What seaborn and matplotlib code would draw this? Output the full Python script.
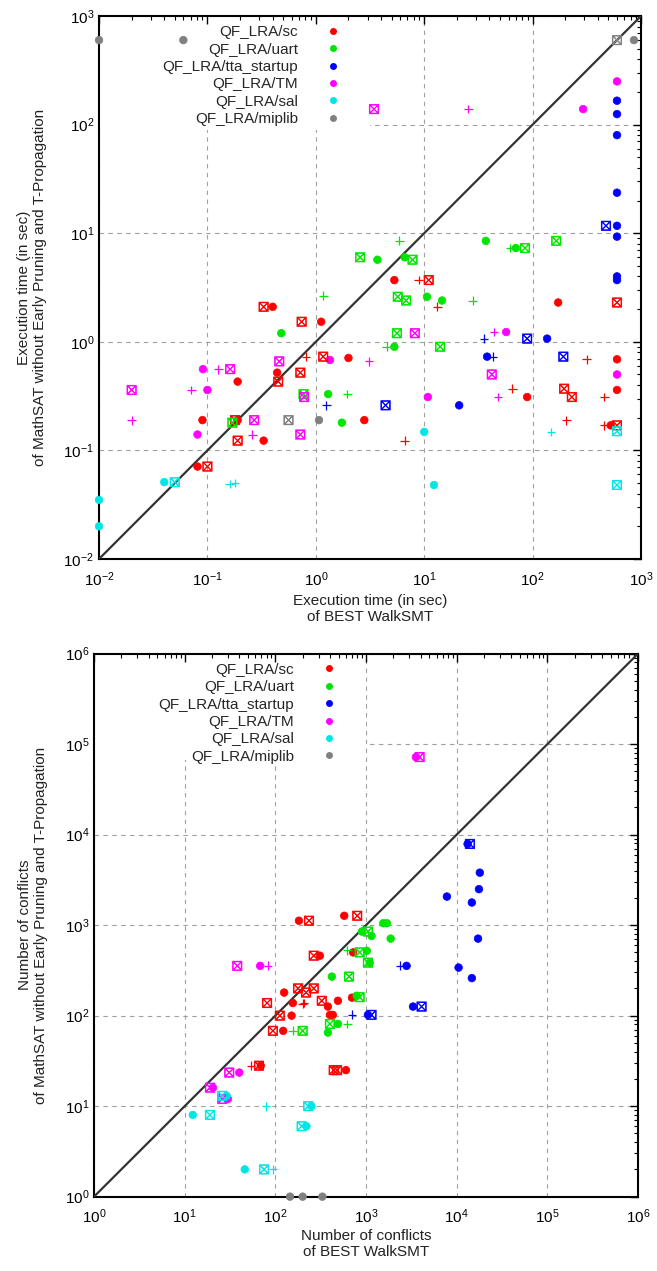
import matplotlib
matplotlib.use("Agg")
import matplotlib.pyplot as plt
from matplotlib.lines import Line2D
from matplotlib.patches import Rectangle
from matplotlib.ticker import NullFormatter, FixedLocator, LogLocator
import numpy as np
import pandas as pd
import seaborn as sns

#%% data (x = BEST WalkSMT, y = MathSAT w/o EP and TP)
families = ["QF_LRA/sc", "QF_LRA/uart", "QF_LRA/tta_startup",
            "QF_LRA/TM", "QF_LRA/sal", "QF_LRA/miplib"]
family_colors = ["#ff0000", "#00e600", "#0000ff", "#ff00ff", "#00e6e6", "#808080"]
runs = ["run1", "run2", "run3"]

# execution time (sec)
time_sc = {
    "run1": [(5.3, 3.7), (172, 2.3), (2.0, 0.71), (600, 0.69), (600, 0.36), (89, 0.31),
             (2.8, 0.19), (525, 0.17), (0.40, 2.1), (1.12, 1.53), (0.19, 0.43),
             (0.44, 0.52), (0.19, 0.19), (0.09, 0.19), (0.33, 0.123), (0.081, 0.071)],
    "run2": [(11, 3.7), (600, 2.3), (195, 0.37), (230, 0.31), (600, 0.17), (0.33, 2.1),
             (0.74, 1.53), (1.17, 0.73), (0.45, 0.43), (0.72, 0.52), (0.18, 0.19),
             (0.19, 0.123), (0.1, 0.071)],
    "run3": [(8.9, 3.7), (13.2, 2.1), (316, 0.69), (65, 0.37), (460, 0.31), (205, 0.19),
             (460, 0.17), (6.6, 0.123), (0.81, 0.73)],
}
time_uart = {
    "run1": [(37, 8.5), (70, 7.3), (3.7, 5.7), (6.6, 6.0), (10.6, 2.6), (14.6, 2.4),
             (5.3, 0.9), (1.3, 0.33), (1.74, 0.18), (0.48, 1.2)],
    "run2": [(85, 7.3), (165, 8.5), (2.56, 6.0), (7.8, 5.7), (5.7, 2.6), (6.8, 2.4),
             (5.6, 1.2), (14.0, 0.9), (0.77, 0.33), (0.17, 0.18)],
    "run3": [(5.9, 8.5), (62, 7.3), (28, 2.4), (4.5, 0.9), (1.95, 0.33), (1.17, 2.66)],
}
time_tta = {
    "run1": [(600, 166), (600, 125), (600, 80), (600, 23.6), (600, 11.7), (600, 9.3),
             (600, 4.0), (600, 3.7), (136, 1.07), (38, 0.73), (21, 0.26)],
    "run2": [(475, 11.7), (89, 1.07), (192, 0.73), (4.4, 0.26)],
    "run3": [(35.6, 1.07), (43, 0.73), (1.25, 0.26)],
}
time_tm = {
    "run1": [(600, 250), (292, 139), (57, 1.23), (1.35, 0.68), (600, 0.50), (10.8, 0.31),
             (0.091, 0.56), (0.1, 0.36), (0.081, 0.14)],
    "run2": [(3.44, 139), (8.2, 1.2), (42, 0.50), (0.46, 0.66), (0.162, 0.56),
             (0.020, 0.36), (0.78, 0.31), (0.27, 0.19), (0.72, 0.14)],
    "run3": [(25.4, 139), (44, 1.23), (3.1, 0.66), (48, 0.31), (0.126, 0.56),
             (0.071, 0.36), (0.02, 0.19), (0.26, 0.14)],
}
time_sal = {
    "run1": [(10, 0.148), (12.3, 0.048), (0.04, 0.051), (0.01, 0.035), (0.01, 0.020)],
    "run2": [(600, 0.15), (600, 0.048), (0.05, 0.051)],
    "run3": [(148, 0.148), (0.16, 0.049), (0.18, 0.05)],
}
time_miplib = {
    "run1": [(0.01, 600), (0.06, 600), (860, 600), (1.07, 0.19)],
    "run2": [(600, 600), (0.56, 0.19)],
    "run3": [],
}

# number of conflicts
conf_sc = {
    "run1": [(575, 1270), (182, 1120), (310, 460), (720, 500), (490, 146), (700, 158),
             (380, 126), (400, 102), (430, 102), (125, 180), (156, 138), (151, 100),
             (122, 68), (69, 28), (600, 25)],
    "run2": [(800, 1270), (235, 1120), (265, 460), (178, 200), (265, 200), (218, 180),
             (325, 146), (81, 138), (112, 100), (94, 68), (66, 28), (480, 25), (440, 25)],
    "run3": [(200, 135), (207, 138), (54, 28)],
}
conf_uart = {
    "run1": [(1550, 1050), (1700, 1050), (900, 850), (1150, 760), (1870, 710),
             (1020, 520), (1100, 385), (420, 270), (790, 166), (490, 81), (380, 65)],
    "run2": [(1050, 850), (850, 500), (1050, 385), (650, 270), (850, 160), (400, 81),
             (200, 68)],
    "run3": [(620, 525), (620, 81), (156, 68)],
}
conf_tta = {
    "run1": [(13200, 7900), (18000, 3800), (17600, 2500), (7800, 2070), (14700, 1780),
             (17200, 710), (2800, 355), (10500, 340), (14700, 260), (3300, 126),
             (1050, 102)],
    "run2": [(14000, 7900), (4100, 126), (1150, 102)],
    "run3": [(2400, 355), (700, 102)],
}
conf_tm = {
    "run1": [(3550, 72000), (68, 355), (40, 23.5), (20.5, 16), (30, 12)],
    "run2": [(3900, 72000), (38, 355), (31, 23.5), (26, 12), (19, 16)],
    "run3": [(83, 355)],
}
conf_sal = {
    "run1": [(29, 13), (250, 10), (12.3, 8), (220, 6), (46, 2)],
    "run2": [(26, 13), (230, 10), (19, 8), (195, 6), (75, 2)],
    "run3": [(79, 10), (94, 2)],
}
conf_miplib = {
    "run1": [(145, 1), (200, 1), (330, 1)],
    "run2": [],
    "run3": [],
}

#%% helpers
run_markers = {"run1": "o", "run2": r"$\boxtimes$", "run3": "+"}
run_sizes = {"run1": 30, "run2": 46, "run3": 40}
palette = dict(zip(families, family_colors))


def to_frame(tables):
    rows = []
    for fam, tab in zip(families, tables):
        for r in runs:
            for bx, by in tab[r]:
                rows.append({"family": fam, "run": r, "best": bx, "msat": by})
    return pd.DataFrame(rows)


time_df = to_frame([time_sc, time_uart, time_tta, time_tm, time_sal, time_miplib])
conf_df = to_frame([conf_sc, conf_uart, conf_tta, conf_tm, conf_sal, conf_miplib])

sns.set_style("white")
plt.rcParams["font.family"] = ["Liberation Sans", "DejaVu Sans"]
plt.rcParams["mathtext.default"] = "regular"


def set_log(a, lo, hi):
    a.set_xscale("log")
    a.set_yscale("log")
    a.set_xlim(lo, hi)
    a.set_ylim(lo, hi)
    decades = 10.0 ** np.arange(np.log10(lo), np.log10(hi) + 1)
    for axis in (a.xaxis, a.yaxis):
        axis.set_major_locator(FixedLocator(decades))
        axis.set_minor_locator(LogLocator(base=10, subs=np.arange(2, 10), numticks=20))


def draw(fig, rect, df, lo, hi, xlabel, ylabel, key_box, xpad):
    # grid lives on an axes underneath, so the key's white box can hide it
    axg = fig.add_axes(rect, zorder=0)
    set_log(axg, lo, hi)
    axg.grid(True, which="major", ls=(0, (4, 4)), color="#a0a0a0", lw=0.8)
    for a in (axg.xaxis, axg.yaxis):
        a.set_major_formatter(NullFormatter())
        a.set_minor_formatter(NullFormatter())
    axg.tick_params(which="both", length=0)
    for s in axg.spines.values():
        s.set_visible(False)

    ax = fig.add_axes(rect, zorder=1)
    ax.patch.set_alpha(0)
    ax.add_patch(Rectangle((0, 1 - key_box[1]), key_box[0], key_box[1],
                           transform=ax.transAxes, facecolor="white",
                           edgecolor="none", zorder=0.2))
    for r in runs:
        sub = df[df.run == r]
        if r == "run3":
            kw = dict(linewidth=0.9)
        else:
            kw = dict(linewidth=0.5, edgecolor="face")
        sns.scatterplot(data=sub, x="best", y="msat", hue="family", hue_order=families,
                        palette=palette, marker=run_markers[r], s=run_sizes[r],
                        legend=False, ax=ax, clip_on=False, zorder=6, **kw)
    ax.plot([lo, hi], [lo, hi], color="#333333", lw=1.6, zorder=4)
    set_log(ax, lo, hi)
    ax.yaxis.set_minor_formatter(NullFormatter())
    ax.xaxis.set_minor_formatter(NullFormatter())
    for s in ax.spines.values():
        s.set_color("black")
        s.set_linewidth(1.5)
    ax.tick_params(which="both", direction="in", top=True, right=True, labelsize=11,
                   colors="black")
    ax.tick_params(which="major", length=6, width=1)
    ax.tick_params(which="minor", length=3, width=0.8)
    ax.tick_params(axis="x", pad=8)
    ax.set_xlabel(xlabel, fontsize=11, color="#222222", labelpad=xpad)
    ax.set_ylabel(ylabel, fontsize=11, color="#222222", labelpad=12)

    handles = [Line2D([], [], ls="", marker="o", markersize=5, color=c, markeredgewidth=0)
               for c in family_colors]
    leg = ax.legend(handles, families, loc="upper right", bbox_to_anchor=(0.46, 1.0),
                    markerfirst=False, frameon=False, fontsize=11, handlelength=0.8,
                    handletextpad=1.9, labelspacing=0.22, borderaxespad=0.3,
                    borderpad=0.3)
    leg.set_zorder(5)
    return ax


#%% figure
fig = plt.figure(figsize=(6.57, 12.71), dpi=100)

draw(fig, [0.1507, 0.5602, 0.825, 0.4272], time_df, 1e-2, 1e3,
     "Execution time (in sec)\nof BEST WalkSMT",
     "Execution time (in sec)\nof MathSAT without Early Pruning and T-Propagation",
     (0.50, 0.21), 4)
draw(fig, [0.1431, 0.0585, 0.828, 0.4272], conf_df, 1e0, 1e6,
     "Number of conflicts\nof BEST WalkSMT",
     "Number of conflicts\nof MathSAT without Early Pruning and T-Propagation",
     (0.50, 0.195), 2)

fig.savefig("out.png", dpi=100)
